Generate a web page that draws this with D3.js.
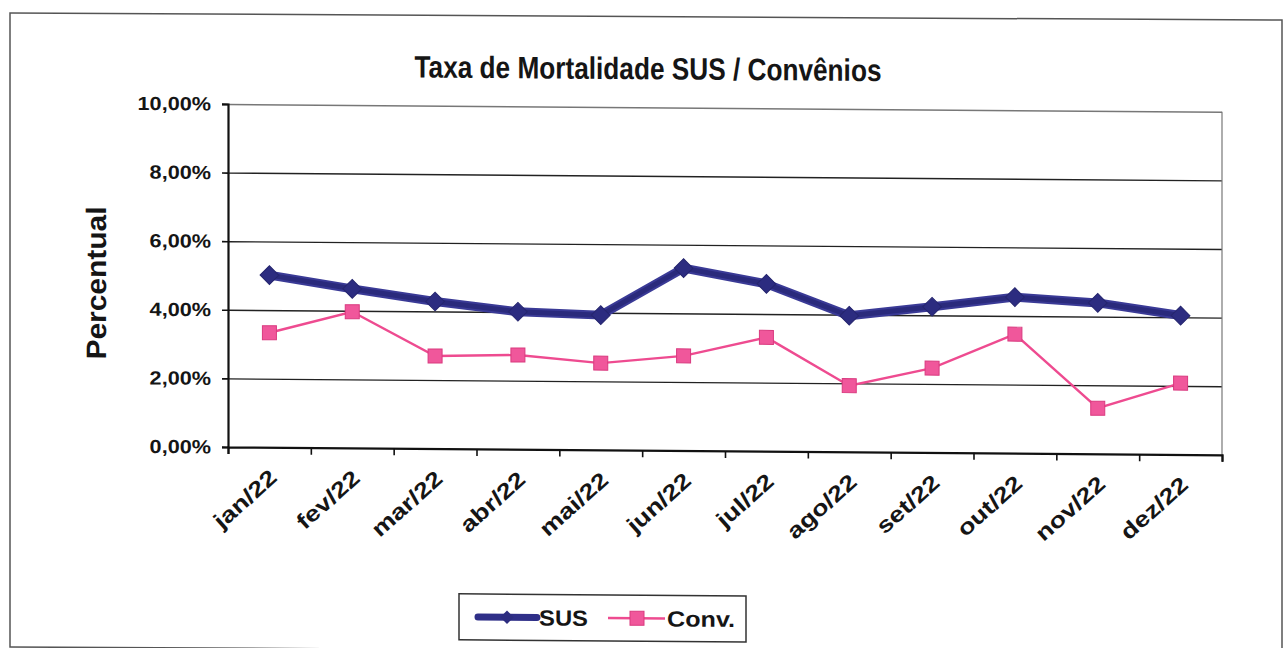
<!DOCTYPE html>
<html>
<head>
<meta charset="utf-8">
<script src="https://cdn.jsdelivr.net/npm/d3@7/dist/d3.min.js"></script>
<style>
    body { margin: 0; background: #fff; }
    svg { display: block; }
    text { font-family: 'Liberation Sans', Arial, sans-serif; font-weight: bold; fill: #151515; }
</style>
</head>
<body>
<div id="chart"></div>
<script>
var months = ['jan/22', 'fev/22', 'mar/22', 'abr/22', 'mai/22', 'jun/22',
    'jul/22', 'ago/22', 'set/22', 'out/22', 'nov/22', 'dez/22'];
var susValues = [5.02, 4.64, 4.29, 4.01, 3.93, 5.32, 4.88, 3.97, 4.25, 4.55, 4.40, 4.05];
var convValues = [3.34, 3.97, 2.70, 2.75, 2.53, 2.76, 3.32, 1.93, 2.46, 3.47, 1.33, 2.08];
var yTicks = [0, 2, 4, 6, 8, 10];

(function () {
    var W = 1285, H = 648;
    var plot = { left: 228, right: 1222, top: 104, bottom: 447 };

    var svg = d3.select('#chart').append('svg')
        .attr('width', W)
        .attr('height', H);

    // outer frame of the scanned chart (slightly tilted)
    svg.append('g')
        .attr('transform', 'translate(0,' + (-10 * 0.0055) + ') skewY(0.32)')
        .append('rect')
        .attr('x', 10).attr('y', 13)
        .attr('width', 1272).attr('height', 634)
        .attr('fill', 'none')
        .attr('stroke', '#555')
        .attr('stroke-width', 1.5);

    // everything else follows the scan's tilt
    var g = svg.append('g')
        .attr('transform', 'translate(0,' + (-plot.left * Math.tan(0.45 * Math.PI / 180)) + ') skewY(0.45)');

    var x = d3.scaleBand().domain(months).range([plot.left, plot.right]).padding(0);
    var xEdges = d3.scaleLinear().domain([0, months.length]).range([plot.left, plot.right]);
    var y = d3.scaleLinear().domain([0, 10]).range([plot.bottom, plot.top]);
    var cx = function (i) { return x(months[i]) + x.bandwidth() / 2; };

    // title
    g.append('text')
        .attr('x', 648).attr('y', 76)
        .attr('text-anchor', 'middle')
        .attr('font-size', 31)
        .attr('textLength', 467)
        .attr('lengthAdjust', 'spacingAndGlyphs')
        .text('Taxa de Mortalidade SUS / Convênios');

    // grid lines
    var grid = g.append('g')
        .attr('transform', 'translate(' + plot.left + ',0)')
        .call(d3.axisLeft(y).tickValues(yTicks.slice(1)).tickSize(-(plot.right - plot.left)).tickFormat(''));
    grid.select('.domain').remove();
    grid.selectAll('line')
        .attr('stroke', function (d) { return d === 10 ? '#777' : '#222'; })
        .attr('stroke-width', 1.4);

    // right border of plot area
    g.append('line')
        .attr('x1', plot.right).attr('x2', plot.right)
        .attr('y1', plot.top).attr('y2', plot.bottom)
        .attr('stroke', '#777').attr('stroke-width', 1.2);

    // y axis
    var yAxis = g.append('g')
        .attr('transform', 'translate(' + plot.left + ',0)')
        .call(d3.axisLeft(y).tickValues(yTicks).tickSize(6).tickPadding(11)
            .tickFormat(function (d) { return d3.format('.2f')(d).replace('.', ',') + '%'; }));
    yAxis.select('.domain').attr('stroke', '#111').attr('stroke-width', 2.2);
    yAxis.selectAll('line').attr('stroke', '#111').attr('stroke-width', 1.6);
    yAxis.selectAll('text')
        .attr('font-size', 19)
        .attr('fill', '#151515')
        .each(function () {
            var len = this.getComputedTextLength();
            d3.select(this).attr('textLength', len * 1.14).attr('lengthAdjust', 'spacingAndGlyphs');
        });

    // x axis: ticks at category edges, labels at centres
    var xTickAxis = g.append('g')
        .attr('transform', 'translate(0,' + plot.bottom + ')')
        .call(d3.axisBottom(xEdges).tickValues(d3.range(months.length + 1)).tickSize(7).tickFormat(''));
    xTickAxis.select('.domain').attr('stroke', '#111').attr('stroke-width', 2.2);
    xTickAxis.selectAll('line').attr('stroke', '#111').attr('stroke-width', 1.6);

    var xLabelAxis = g.append('g')
        .attr('transform', 'translate(0,' + plot.bottom + ')')
        .call(d3.axisBottom(x).tickSize(0).tickPadding(0));
    xLabelAxis.select('.domain').remove();
    xLabelAxis.selectAll('text')
        .attr('font-size', 22)
        .attr('fill', '#151515')
        .attr('text-anchor', 'end')
        .attr('dy', 0)
        .attr('transform', 'translate(9,32) rotate(-42)')
        .each(function () {
            var len = this.getComputedTextLength();
            d3.select(this).attr('textLength', len * 1.22).attr('lengthAdjust', 'spacingAndGlyphs');
        });

    // axis title
    g.append('text')
        .attr('transform', 'translate(106,284) rotate(-90)')
        .attr('text-anchor', 'middle')
        .attr('font-size', 28)
        .attr('textLength', 153)
        .attr('lengthAdjust', 'spacingAndGlyphs')
        .text('Percentual');

    // series
    var line = d3.line()
        .x(function (d, i) { return cx(i); })
        .y(function (d) { return y(d); });

    g.append('path')
        .datum(convValues)
        .attr('fill', 'none')
        .attr('stroke', '#ee4b90')
        .attr('stroke-width', 2.4)
        .attr('d', line);

    g.selectAll('.conv-dot')
        .data(convValues)
        .enter()
        .append('rect')
        .attr('class', 'conv-dot')
        .attr('x', function (d, i) { return cx(i) - 7; })
        .attr('y', function (d) { return y(d) - 7; })
        .attr('width', 14).attr('height', 14)
        .attr('fill', '#f0579b')
        .attr('stroke', '#d93a7f')
        .attr('stroke-width', 1);

    g.append('path')
        .datum(susValues)
        .attr('fill', 'none')
        .attr('stroke', '#3a3a96')
        .attr('stroke-width', 9)
        .attr('stroke-linejoin', 'round')
        .attr('d', line);

    g.append('path')
        .datum(susValues)
        .attr('fill', 'none')
        .attr('stroke', '#2a2a7c')
        .attr('stroke-width', 5)
        .attr('stroke-linejoin', 'round')
        .attr('d', line);

    g.selectAll('.sus-dot')
        .data(susValues)
        .enter()
        .append('path')
        .attr('class', 'sus-dot')
        .attr('d', d3.symbol().type(d3.symbolSquare).size(175))
        .attr('transform', function (d, i) { return 'translate(' + cx(i) + ',' + y(d) + ') rotate(45)'; })
        .attr('fill', '#2c2c80')
        .attr('stroke', '#25256e')
        .attr('stroke-width', 1);

    // legend
    var legend = g.append('g');
    legend.append('rect')
        .attr('x', 459).attr('y', 592)
        .attr('width', 287).attr('height', 46)
        .attr('fill', '#fff')
        .attr('stroke', '#333')
        .attr('stroke-width', 1.5);

    legend.append('line')
        .attr('x1', 478).attr('x2', 537).attr('y1', 615).attr('y2', 615)
        .attr('stroke', '#2f2f88').attr('stroke-width', 7).attr('stroke-linecap', 'round');
    legend.append('path')
        .attr('d', d3.symbol().type(d3.symbolSquare).size(90))
        .attr('transform', 'translate(507,615) rotate(45)')
        .attr('fill', '#2c2c80');
    legend.append('text')
        .attr('x', 539).attr('y', 623)
        .attr('font-size', 22)
        .attr('textLength', 49)
        .attr('lengthAdjust', 'spacingAndGlyphs')
        .text('SUS');

    legend.append('line')
        .attr('x1', 608).attr('x2', 665).attr('y1', 615).attr('y2', 615)
        .attr('stroke', '#ee4b90').attr('stroke-width', 2.4);
    legend.append('rect')
        .attr('x', 630).attr('y', 608).attr('width', 14).attr('height', 14)
        .attr('fill', '#f0579b').attr('stroke', '#d93a7f');
    legend.append('text')
        .attr('x', 667).attr('y', 623)
        .attr('font-size', 22)
        .attr('textLength', 68)
        .attr('lengthAdjust', 'spacingAndGlyphs')
        .text('Conv.');
})();
</script>
</body>
</html>
